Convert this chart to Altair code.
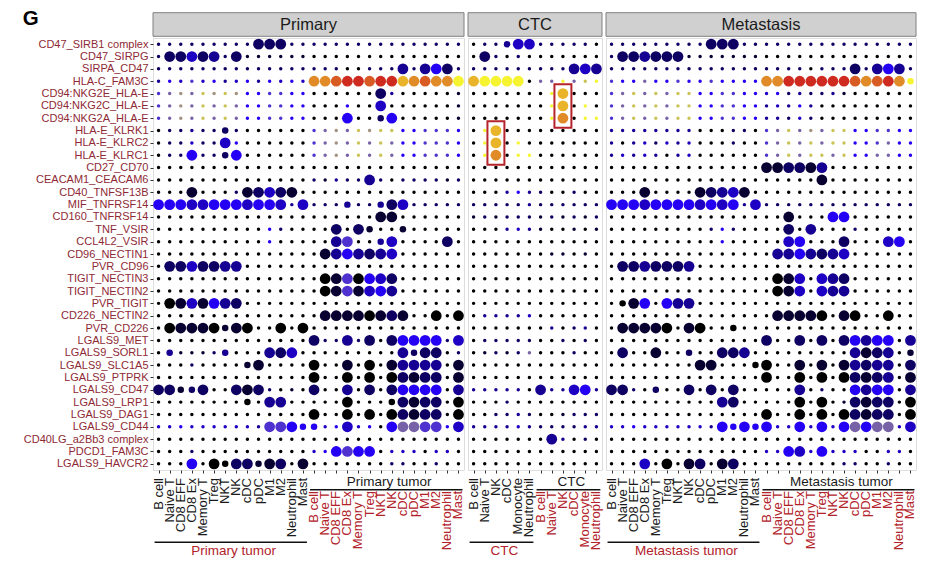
import altair as alt
import pandas as pd

# ---------------- data ----------------
ROWS = [
    "CD47_SIRB1 complex", "CD47_SIRPG", "SIRPA_CD47", "HLA-C_FAM3C",
    "CD94:NKG2E_HLA-E", "CD94:NKG2C_HLA-E", "CD94:NKG2A_HLA-E",
    "HLA-E_KLRK1", "HLA-E_KLRC2", "HLA-E_KLRC1", "CD27_CD70",
    "CEACAM1_CEACAM6", "CD40_TNFSF13B", "MIF_TNFRSF14", "CD160_TNFRSF14",
    "TNF_VSIR", "CCL4L2_VSIR", "CD96_NECTIN1", "PVR_CD96", "TIGIT_NECTIN3",
    "TIGIT_NECTIN2", "PVR_TIGIT", "CD226_NECTIN2", "PVR_CD226", "LGALS9_MET",
    "LGALS9_SORL1", "LGALS9_SLC1A5", "LGALS9_PTPRK", "LGALS9_CD47",
    "LGALS9_LRP1", "LGALS9_DAG1", "LGALS9_CD44", "CD40LG_a2Bb3 complex",
    "PDCD1_FAM3C", "LGALS9_HAVCR2",
]

TUMOR_CELLS = ["B cell", "Naive T", "CD8 EFF", "CD8 Ex", "Memory T", "Treg",
               "NKT", "NK", "cDC", "pDC", "M1", "M2", "Neutrophil", "Mast"]
CTC_CELLS = ["B cell", "Naive T", "NK", "cDC", "Monocyte", "Neutrophil"]

PANEL_NAMES = ["Primary", "CTC", "Metastasis"]
GROUP_NAMES = ["Primary tumor", "CTC", "Metastasis tumor"]

# one character per dot: lowercase = small dot (not significant),
# digits/z = medium dot, uppercase = large dot (significant);
# position in the alphabet = mean expression level (0 = low ... 14 = high)
PRIMARY_CODES = [
    "cccccccccCCCcc" "cccccccccccccc",
    "cCCECDcCbbbbbb" "aaaaaaaaaaaaaa",
    "cccccccccccccc" "cccaacccDcDFCc",
    "dfegefdefdfefe" "MMNOONOOLMNMMK",
    "ghihjijiffggff" "aaaaaaCdaaaaab",
    "ghihjhjhffggff" "aaafaaEaaaaaab",
    "ghihjhjhffggff" "aaaFaa2Faaaaab",
    "accdcc2caaaaaa" "ghihjijjffgggf",
    "acceccEfaaaaaa" "ghihjhjhffgggf",
    "accFcc2Faaaaaa" "ghihjhjhffgggf",
    "aaaaaaaaaaaaaa" "aaaaaaaaaaaaaa",
    "aaaaaaaaaaaaaa" "cbdccDcaccccbc",
    "aaaBaaacBCECBa" "aaaaaaaaaaaaaa",
    "FFFEEFFFEFFEdE" "ccc3cc3CEccccc",
    "aaaaaaaaaaaaaa" "aaaaaaBBaaaaaa",
    "aaaaaaaaaafcaa" "aaCaC1aa1aaaaa",
    "aaaaaaaaaafaaa" "aaDGaa3EaaaaCa",
    "aaaaaaaaaaaaaa" "aBDFDCDEaaaaaa",
    "aCCECCDDaaaaaa" "aaaaaaaaaaaaaa",
    "aaaaaaaaaaaaaa" "aABGAFECaaaaaa",
    "aaaaaaaaaaaaaa" "aABGBEFDaaaaaa",
    "aABEBFDCaaaaaa" "aaaaaaaaaaaaaa",
    "aaaaaaaaaaaaaa" "aBBBBABCBaaAaA",
    "aABBBA1BAaaAaA" "aaaaaaaaaaaaaa",
    "aaaaaaaaaaaaaa" "CccDcCaCFFFFcE",
    "a3bbbc3aaaDCEa" "aaaaaaaaD2CCac",
    "aaacaaaa1Baaaa" "AaaBaAaBDDDDaB",
    "aaaaaaaaaaaaaa" "AaaAaAaACBCCaB",
    "CC12CaaCBCcaba" "CaaDaCaCFFFFaD",
    "aaaaaaaa0aDDaa" "aaaAaaa0CBCCaA",
    "aaaaaaaaaaaaaa" "AaaAaAaACBCCaA",
    "eefeeeeeedGGF5" "5efEefaFHHGGfE",
    "aaaaaaaaaaaaaa" "aaaaaaaaaaaaaa",
    "aaacaaaaaaaaaa" "efFGFFaeeeaeea",
    "aaaFaA0CC1BCaB" "aaaaaaaccaacaa",
]

CTC_CODES = [
    "acc3EE" "ccccca",
    "aCcaca" "aaaaaa",
    "cccccc" "cccDED",
    "LKKKKa" "hhkhjk",
    "aaaaaa" "akLaaa",
    "aaaaaa" "akLaka",
    "aaaaaa" "akMakk",
    "akLaaa" "aaaaaa",
    "akLaka" "aaaaaa",
    "akMakk" "aaaaaa",
    "aaaaaa" "aaaaaa",
    "aaaaaa" "aaaaaa",
    "aaadfd" "caacaa",
    "cccccd" "cccccc",
    "bcbccc" "bcbcbc",
    "aaaded" "baabab",
    "aaaaaa" "aaaaaa",
    "aaaaaa" "abbaba",
    "aaaaaa" "aaaaaa",
    "aaaaaa" "aaaaaa",
    "aaaaaa" "aaaaaa",
    "aaaaaa" "aaaaaa",
    "adddde" "aaaaaa",
    "aaaaaa" "adacda",
    "accccc" "aacaca",
    "abcbch" "aaacaa",
    "aaaaaa" "aaaaaa",
    "aaaaaa" "aaaaaa",
    "ddddda" "DddEFd",
    "aaacaa" "aaaaaa",
    "aaccdc" "aabccc",
    "dddded" "ccccdd",
    "aaaaaa" "aDdaca",
    "aaaaaa" "aaaaaa",
    "aaaaaa" "aaaaaa",
]

METASTASIS_CODES = [
    "cccccccccCCCcc" "cccccccccccccc",
    "cCCDCCCbbbbbbb" "aaaaaaaaaaaaaa",
    "cccccccccccccc" "ccccacccCcDFDc",
    "gffhffgffgffff" "MMOOOOOONMNOMz",
    "ghjhjhjjffggff" "efcdccdbaaaaaa",
    "ghjhjhjjffggff" "dedfdaaaaaaaaa",
    "ghjhjhjjffggff" "ddcecaaaaaaaaa",
    "ddddddddaaacca" "ghjhihjjffggff",
    "dadecedeaaacaa" "ghjhjhjjffghff",
    "dededadeaaaaaa" "ghjhjjhjffhhff",
    "aaaaaaaaaaaaaa" "BBCCBDaaaaaaaa",
    "aaaaaaaaaaaaaa" "aaaaaBaaaaaaaa",
    "aaaBaaaaBCDEBa" "aaaaaaaaaaaaaa",
    "FFFEFFFFEFEFdE" "cccccccccccccc",
    "aaaaaaaaaaaaaa" "aaBaaaFFaaaaaa",
    "aaaaaaaaacfcaa" "aaCaDaaacaaaaa",
    "aaaaaaaaaafaaa" "aaEFaaaCaaaEFa",
    "aaaaaaaaaaaaaa" "aDDFDCDEaaaaaa",
    "aCCDCCCDaaaaaa" "aaaaaaaaaaaaaa",
    "aaaaaaaaaaaaaa" "aABEaEDCaaaaaa",
    "aaaaaaaaaaaaaa" "aABEaEDDaaaaaa",
    "a0BFaFDDaaaaaa" "aaaaaaaaaaaaaa",
    "aaaaaaaaaaaaaa" "aBBBBAaBAaaAaa",
    "aBBBBAaBAaa0aa" "aaaaaaaaaaaaaa",
    "aaaaaaaaaaaaaa" "CaaCaCaCFDFFaD",
    "aCaaBaa2aaCCDa" "aaaaaaaaDBCDa1",
    "aaaaaaaaBBaaa0" "AaaBaBaBDCDDaC",
    "aaaaaaaaaaaaaa" "AaaAaAaACBCDaB",
    "CCca2aaCaCaCaa" "aaaDacaaFDFFaD",
    "aaaaaaaaaaDCaa" "aaaAaAabCBCCaA",
    "aaaaaaaaaaaaaa" "AaaAaAaACBCCaA",
    "eefeeeeeedF5F5" "FeeFeFeFHFHHeE",
    "aaaaaaaaaaaaaa" "aaaaaaaaaaaaaa",
    "aaaaaaaaaaaaaa" "eeFEeFeeeaaeea",
    "aaaEaAaBCaBCaa" "aaaaaaaccaacaa",
]

# highlighted pairs (red boxes in the CTC panel): column index, centre row
CTC_HIGHLIGHTS = [(2, "HLA-E_KLRC2"), (8, "CD94:NKG2C_HLA-E")]

SMALL = "abcdefghijklmno"
LARGE = "ABCDEFGHIJKLMNO"
MEDIUM = "0123456789z"
NEGLOGP = {"small": 0.0, "medium": 1.3, "large": 3.0}


def decode(ch):
    if ch in SMALL:
        return SMALL.index(ch), NEGLOGP["small"]
    if ch in LARGE:
        return LARGE.index(ch), NEGLOGP["large"]
    return MEDIUM.index(ch), NEGLOGP["medium"]


# ---------------- styles ----------------
COLOR_SCALE = alt.Scale(domain=[0, 5, 10, 11, 12, 14],
                        range=["#000000", "#2400f5", "#f6f431", "#e9b42a",
                               "#e08b28", "#cf2a1f"],
                        interpolate="rgb")
SIZE_SCALE = alt.Scale(domain=[0, 1.3, 3], range=[12, 42, 116])
H = 432
RED = "#b2222a"
DARK = "#1a1a1a"
YLAB = "#8e2a35"


def panel(name, group_name, senders, receivers, codes, width, first):
    cols = senders + receivers
    n, ns = len(cols), len(senders)
    recs = []
    for r, code in zip(ROWS, codes):
        if len(code) != n:
            raise ValueError(f"{name} {r}: {len(code)} != {n}")
        for j, ch in enumerate(code):
            lvl, p = decode(ch)
            recs.append({"row": r, "col": j, "level": lvl, "neglogp": p})
    df = pd.DataFrame(recs)

    xs = alt.Scale(type="point", padding=0.5, domain=list(range(n)))
    ys = alt.Scale(type="point", padding=0.5, domain=ROWS)
    xaxis = alt.Axis(title=None, labels=False, ticks=True, tickSize=3,
                     tickColor="#333333", domain=False, grid=False)
    if first:
        yaxis = alt.Axis(title=None, labelFontSize=11, labelColor=YLAB,
                         tickSize=3, tickColor="#333333", domain=False,
                         labelPadding=2, labelLimit=0, grid=False)
    else:
        yaxis = None

    hdr = pd.DataFrame({"panel": [name]})
    strip = alt.Chart(hdr).mark_rect(fill="#d0d0d0", stroke="#808080",
                                     strokeWidth=1).encode(
        x=alt.value(0), x2=alt.value(width),
        y=alt.value(-25.3), y2=alt.value(-1.7))
    strip_txt = alt.Chart(hdr).mark_text(fontSize=16.5, color=DARK,
                                         baseline="middle").encode(
        x=alt.value(width / 2), y=alt.value(-13.2), text="panel:N")

    dots = alt.Chart(df).mark_circle(opacity=1).encode(
        x=alt.X("col:O", scale=xs, axis=xaxis),
        y=alt.Y("row:N", scale=ys, axis=yaxis),
        color=alt.Color("level:Q", scale=COLOR_SCALE, legend=None),
        size=alt.Size("neglogp:Q", scale=SIZE_SCALE, legend=None),
    )

    labdf = pd.DataFrame({"col": list(range(n)), "label": cols,
                          "grp": ["s"] * ns + ["r"] * (n - ns)})
    lab_s = alt.Chart(labdf).transform_filter("datum.grp == 's'").mark_text(
        angle=270, align="right", baseline="middle", fontSize=13,
        color=DARK).encode(
        x=alt.X("col:O", scale=xs, axis=xaxis), y=alt.value(H + 8),
        text="label:N")
    lab_r = alt.Chart(labdf).transform_filter("datum.grp == 'r'").mark_text(
        angle=270, align="right", baseline="middle", fontSize=13,
        color=RED).encode(
        x=alt.X("col:O", scale=xs, axis=xaxis), y=alt.value(H + 21),
        text="label:N")

    gdf = pd.DataFrame([
        {"col": 0, "col_end": ns - 1, "mid": ns // 2 - 1, "label": group_name,
         "grp": "s"},
        {"col": ns, "col_end": n - 1, "mid": ns + (n - ns) // 2 - 1,
         "label": group_name, "grp": "r"},
    ])
    rule_s = alt.Chart(gdf).transform_filter("datum.grp == 's'").mark_rule(
        xOffset=-4, x2Offset=4, strokeWidth=1.6, color="#111111").encode(
        x=alt.X("col:O", scale=xs, axis=xaxis), x2="col_end:O",
        y=alt.value(H + 72.3))
    rule_r = alt.Chart(gdf).transform_filter("datum.grp == 'r'").mark_rule(
        xOffset=-4, x2Offset=4, strokeWidth=1.6, color="#111111").encode(
        x=alt.X("col:O", scale=xs, axis=xaxis), x2="col_end:O",
        y=alt.value(H + 19.7))
    gtxt_s = alt.Chart(gdf).transform_filter("datum.grp == 's'").mark_text(
        fontSize=13.5, color=RED, baseline="middle", dx=8.5).encode(
        x=alt.X("mid:O", scale=xs, axis=xaxis), y=alt.value(H + 81),
        text="label:N")
    gtxt_r = alt.Chart(gdf).transform_filter("datum.grp == 'r'").mark_text(
        fontSize=13.5, color=DARK, baseline="middle", dx=8.5).encode(
        x=alt.X("mid:O", scale=xs, axis=xaxis), y=alt.value(H + 12),
        text="label:N")

    layers = [strip, strip_txt, dots, lab_s, lab_r, rule_s, rule_r,
              gtxt_s, gtxt_r]
    if first:
        layers.append(alt.Chart(hdr).mark_text(
            text="G", fontSize=20.5, fontWeight="bold", align="left",
            baseline="alphabetic", color="#000000").encode(
            x=alt.value(-130.3), y=alt.value(-13)))
    if name == "CTC":
        bdf = pd.DataFrame({"col": [c for c, _ in CTC_HIGHLIGHTS],
                            "row": [r for _, r in CTC_HIGHLIGHTS]})
        layers.append(alt.Chart(bdf).mark_point(
            shape="M-0.39,-1L0.39,-1L0.39,1L-0.39,1Z", size=1892,
            filled=False, stroke="#b5232b", strokeWidth=2, opacity=1).encode(
            x=alt.X("col:O", scale=xs, axis=xaxis),
            y=alt.Y("row:N", scale=ys, axis=yaxis)))
    return alt.layer(*layers).properties(width=width, height=H)


p1 = panel(PANEL_NAMES[0], GROUP_NAMES[0], TUMOR_CELLS, TUMOR_CELLS,
           PRIMARY_CODES, 311, True)
p2 = panel(PANEL_NAMES[1], GROUP_NAMES[1], CTC_CELLS, CTC_CELLS,
           CTC_CODES, 134, False)
p3 = panel(PANEL_NAMES[2], GROUP_NAMES[2], TUMOR_CELLS, TUMOR_CELLS,
           METASTASIS_CODES, 310, False)

chart = alt.hconcat(p1, p2, p3, spacing=4, bounds="flush").properties(
    padding={"left": 22, "top": 8, "right": 5, "bottom": 5}
).configure_view(stroke="#444444", strokeWidth=1.2).configure(
    font="Liberation Sans", background="white")

chart.save("out.html", embed_options={"renderer": "svg", "actions": False})
